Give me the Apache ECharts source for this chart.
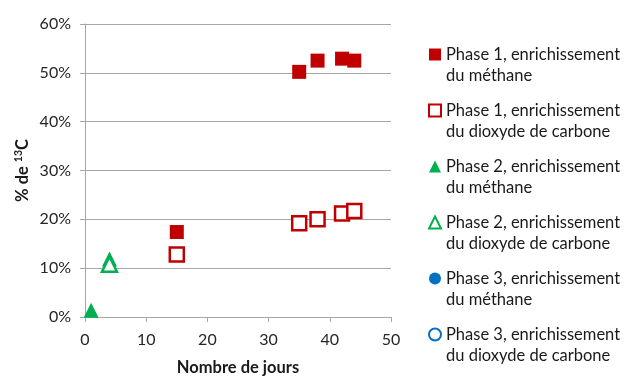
<!DOCTYPE html>
<html>
<head>
<meta charset="utf-8">
<script src="https://cdn.jsdelivr.net/npm/echarts@6/dist/echarts.min.js"></script>
<style>
  html, body { margin: 0; padding: 0; background: #fff; }
  #main { width: 627px; height: 376px; }
</style>
</head>
<body>
<div id="main"></div>
<script>
// data: [day, % 13C]
var phase1Methane = [[15, 17.4], [35, 50.2], [38, 52.5], [42, 52.9], [44, 52.5]];
var phase1CO2 = [[15, 12.8], [35, 19.2], [38, 20.0], [42, 21.2], [44, 21.7]];
var phase2Methane = [[1, 1.4], [4, 11.9]];
var phase2CO2 = [[4, 10.8]];
var phase3Methane = [];
var phase3CO2 = [];

var xTicks = [0, 10, 20, 30, 40, 50];
var yTicks = [0, 10, 20, 30, 40, 50, 60];

var names = [
  'Phase 1, enrichissement\ndu méthane',
  'Phase 1, enrichissement\ndu dioxyde de carbone',
  'Phase 2, enrichissement\ndu méthane',
  'Phase 2, enrichissement\ndu dioxyde de carbone',
  'Phase 3, enrichissement\ndu méthane',
  'Phase 3, enrichissement\ndu dioxyde de carbone'
];

var red = '#c00000', green = '#00b050', blue = '#0070c0';
var font = 'Lato';

function filled(name, data, symbol, color, size) {
  return {
    name: name, type: 'scatter', data: data, symbol: symbol, symbolSize: size,
    itemStyle: { color: color, opacity: 1 }
  };
}
function hollow(name, data, symbol, color, size) {
  return {
    name: name, type: 'scatter', data: data, symbol: symbol, symbolSize: size,
    itemStyle: { color: '#fff', borderColor: color, borderWidth: 2.5, opacity: 1 }
  };
}

var chart = echarts.init(document.getElementById('main'));
chart.setOption({
  animation: false,
  textStyle: { fontFamily: font },
  grid: { left: 85, right: 236, top: 24, bottom: 59, outerBoundsMode: 'none' },
  legend: {
    orient: 'vertical',
    left: 428,
    top: 23,
    padding: 0,
    itemWidth: 12,
    itemHeight: 12,
    itemGap: -7,
    data: names,
    // leading blank line keeps the first text line level with the icon
    formatter: function (n) { return '\n' + n; },
    textStyle: { fontFamily: font, fontSize: 16.5, color: '#1a1a1a', lineHeight: 21 }
  },
  xAxis: {
    type: 'value',
    min: 0, max: 50, interval: 10,
    name: 'Nombre de jours',
    nameLocation: 'middle',
    nameGap: 42,
    nameTextStyle: { fontFamily: font, fontSize: 16.5, fontWeight: 'bold', color: '#1a1a1a' },
    axisLine: { show: true, lineStyle: { color: '#a6a6a6', width: 1 } },
    axisTick: { show: true, length: 5, lineStyle: { color: '#a6a6a6' } },
    splitLine: { show: false },
    axisLabel: { fontSize: 16, color: '#262626', margin: 15,
      formatter: function (v) { return xTicks.indexOf(v) >= 0 ? String(v) : ''; } }
  },
  yAxis: {
    type: 'value',
    min: 0, max: 60, interval: 10,
    name: '{b|% de }{sup|13}{b|C}',
    nameLocation: 'middle',
    nameGap: 52,
    nameRotate: 90,
    nameTextStyle: {
      rich: {
        b: { fontFamily: font, fontSize: 16.5, fontWeight: 'bold', color: '#1a1a1a', lineHeight: 20 },
        sup: { fontFamily: font, fontSize: 10.5, fontWeight: 'bold', color: '#1a1a1a', verticalAlign: 'top', lineHeight: 11 }
      }
    },
    axisLine: { show: true, lineStyle: { color: '#a6a6a6', width: 1 } },
    axisTick: { show: true, length: 5, lineStyle: { color: '#a6a6a6' } },
    splitLine: { show: true, lineStyle: { color: '#a6a6a6', width: 1 } },
    axisLabel: { fontSize: 16, color: '#262626', margin: 14,
      formatter: function (v) { return yTicks.indexOf(v) >= 0 ? v + '%' : ''; } }
  },
  series: [
    filled(names[0], phase1Methane, 'rect', red, 14),
    hollow(names[1], phase1CO2, 'rect', red, 14),
    filled(names[2], phase2Methane, 'triangle', green, 15),
    hollow(names[3], phase2CO2, 'triangle', green, 15),
    filled(names[4], phase3Methane, 'circle', blue, 13),
    hollow(names[5], phase3CO2, 'circle', blue, 13)
  ]
});
</script>
</body>
</html>
